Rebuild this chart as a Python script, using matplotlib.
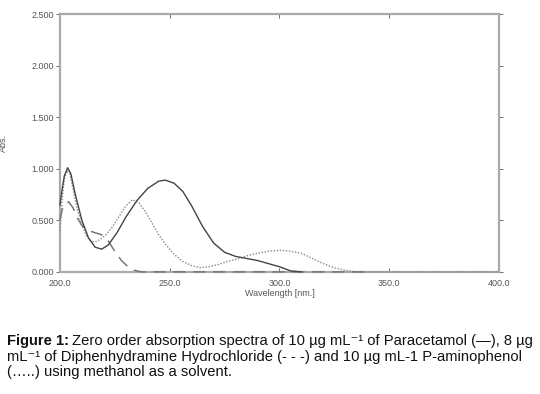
import matplotlib.pyplot as plt

plt.rcParams['font.family'] = ['Liberation Sans', 'DejaVu Sans']

# Paracetamol (solid)
para_wl = [200, 201, 202, 203.5, 205, 207, 210, 213, 216, 219, 222, 226, 230, 235,
           240, 245, 248, 252, 256, 260, 265, 270, 275, 280, 285, 290, 295, 300, 305, 310]
para_abs = [0.65, 0.80, 0.93, 1.01, 0.95, 0.75, 0.50, 0.33, 0.24, 0.22, 0.26, 0.38, 0.53, 0.69,
            0.81, 0.88, 0.89, 0.86, 0.78, 0.64, 0.44, 0.28, 0.19, 0.15, 0.13, 0.11, 0.08, 0.05, 0.01, 0.0]

# Diphenhydramine HCl (dashed)
diph_wl = [200, 201, 202.5, 204, 206, 208, 210, 213, 216, 219, 222, 225, 228, 231, 234, 237, 340]
diph_abs = [0.50, 0.60, 0.66, 0.68, 0.62, 0.52, 0.45, 0.40, 0.38, 0.36, 0.30, 0.20, 0.11, 0.05, 0.015, 0.0, 0.0]

# P-aminophenol (dotted)
pap_wl = [200, 201, 202, 203, 204.5, 206, 208, 210, 212, 214, 216, 218, 221, 224, 227, 230, 233,
          236, 239, 242, 245, 248, 252, 256, 260, 264, 268, 272, 276, 280, 285, 290, 295, 300,
          305, 310, 315, 320, 325, 330, 335, 400]
pap_abs = [0.40, 0.70, 0.90, 0.98, 0.95, 0.80, 0.60, 0.45, 0.35, 0.30, 0.29, 0.31, 0.36, 0.44, 0.54,
           0.64, 0.70, 0.67, 0.58, 0.47, 0.36, 0.27, 0.17, 0.10, 0.06, 0.04, 0.05, 0.07, 0.10, 0.12,
           0.155, 0.18, 0.20, 0.21, 0.20, 0.18, 0.13, 0.08, 0.04, 0.015, 0.0, 0.0]

xticks = [200, 250, 300, 350, 400]
yticks = [0.0, 0.5, 1.0, 1.5, 2.0, 2.5]

fig = plt.figure(figsize=(5.4, 3.94), dpi=100)
ax = fig.add_axes([0.111, 0.310, 0.813, 0.654])

ax.plot(pap_wl, pap_abs, color='#888888', lw=1.0, ls=(0, (1, 1.2)), zorder=3, clip_on=False)
ax.plot(diph_wl, diph_abs, color='#777777', lw=1.1, ls=(0, (8, 5)), zorder=3, clip_on=False)
ax.plot(para_wl, para_abs, color='#444444', lw=1.0, ls='-', zorder=3, clip_on=False)

ax.set_xlim(200, 400)
ax.set_ylim(0, 2.5)
ax.set_xticks(xticks)
ax.set_xticklabels(['%.1f' % v for v in xticks])
ax.set_yticks(yticks)
ax.set_yticklabels(['%.3f' % v for v in yticks])
ax.tick_params(axis='both', labelsize=6.5, colors='#555555', length=3, width=0.6, pad=1.5)
ax.tick_params(axis='y', direction='out', right=True)
ax.tick_params(axis='x', direction='in', top=True, pad=5)
for s in ax.spines.values():
    s.set_color('#aaaaaa')
    s.set_linewidth(1.6)

ax.set_xlabel('Wavelength [nm.]', fontsize=6.5, color='#555555', labelpad=1)
ax.set_ylabel('Abs.', fontsize=6.5, color='#555555', labelpad=17)

# caption below the plot
cap_size = 10.6
y0 = 1 - 341 / 394
dy = 15.5 / 394
bold = fig.text(7 / 540, y0, 'Figure 1:', fontsize=cap_size, fontweight='bold',
                color='#111111', va='center', ha='left')
fig.canvas.draw()
bb = bold.get_window_extent().transformed(fig.transFigure.inverted())
fig.text(bb.x1 + 3 / 540, y0,
         'Zero order absorption spectra of 10 µg mL\u207b\u00b9 of Paracetamol (\u2014), 8 µg',
         fontsize=cap_size, color='#111111', va='center', ha='left')
fig.text(7 / 540, y0 - dy,
         'mL\u207b\u00b9 of Diphenhydramine Hydrochloride (- - -) and 10 µg mL-1 P-aminophenol',
         fontsize=cap_size, color='#111111', va='center', ha='left')
fig.text(7 / 540, y0 - 2 * dy, '(\u2026..) using methanol as a solvent.',
         fontsize=cap_size, color='#111111', va='center', ha='left')

fig.savefig('out.png', dpi=100)
